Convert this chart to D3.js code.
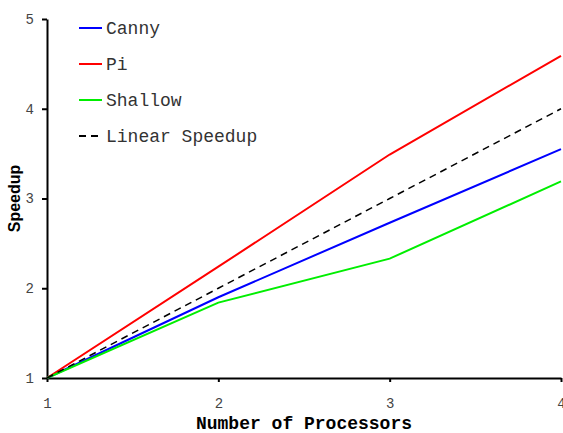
<!DOCTYPE html>
<html>
<head>
<meta charset="utf-8">
<script src="https://cdn.jsdelivr.net/npm/d3@7"></script>
<style>
  body { margin: 0; background: #fff; }
  svg text { font-family: "Liberation Mono", "Courier New", monospace; }
</style>
</head>
<body>
<script>
// speedup per processor count
const processors = [1, 2, 3, 4]
const canny = [1, 1.9, 2.73, 3.55]
const pi = [1, 2.24, 3.49, 4.59]
const shallow = [1, 1.84, 2.33, 3.19]
const linear = [1, 2, 3, 4]
const xTicks = [1, 2, 3, 4]
const yTicks = [1, 2, 3, 4, 5]

const series = [
    { name: "Canny", values: canny, color: "#0000ff", dash: null },
    { name: "Pi", values: pi, color: "#ff0000", dash: null },
    { name: "Shallow", values: shallow, color: "#00ee00", dash: null },
    { name: "Linear Speedup", values: linear, color: "#000", dash: "7,5" }
]

const width = 563,
    height = 433

const svg = d3.select("body").append("svg")
    .attr("width", width)
    .attr("height", height)

const x = d3.scaleLinear().domain([1, 4]).range([47, 561])
const y = d3.scaleLinear().domain([1, 5]).range([378, 19])

// axes
const xAxis = svg.append("g")
    .attr("transform", `translate(0,${y(1)})`)
    .call(d3.axisBottom(x).tickValues(xTicks).tickFormat(d3.format("d")).tickSize(4).tickSizeOuter(0))
const yAxis = svg.append("g")
    .attr("transform", `translate(${x(1)},0)`)
    .call(d3.axisLeft(y).tickValues(yTicks).tickFormat(d3.format("d")).tickSize(5).tickSizeOuter(0))

svg.selectAll(".domain").attr("stroke", "#000").attr("stroke-width", 2)
svg.selectAll(".tick line").attr("stroke", "#000").attr("stroke-width", 2)
svg.selectAll(".tick text")
    .attr("font-family", "Liberation Mono, Courier New, monospace")
    .attr("font-size", 14)
    .attr("fill", "#444")
xAxis.selectAll(".tick text").attr("dy", "0").attr("y", 30)
yAxis.selectAll(".tick text").attr("x", -13)

// lines
const line = d3.line()
    .x((d, i) => x(processors[i]))
    .y((d) => y(d))

svg.selectAll("path.series")
    .data(series)
    .join("path")
    .attr("class", "series")
    .attr("fill", "none")
    .attr("stroke", (d) => d.color)
    .attr("stroke-width", (d) => d.dash ? 1.5 : 2)
    .attr("stroke-dasharray", (d) => d.dash)
    .attr("d", (d) => line(d.values))

// legend
const legend = svg.selectAll("g.legend-item")
    .data(series)
    .join("g")
    .attr("class", "legend-item")
    .attr("transform", (d, i) => `translate(79,${28 + i * 36})`)

legend.append("line")
    .attr("x1", 0)
    .attr("x2", 23)
    .attr("stroke", (d) => d.color)
    .attr("stroke-width", 2)
    .attr("stroke-dasharray", (d) => d.dash)

legend.append("text")
    .attr("x", 27)
    .attr("dy", "0.33em")
    .attr("font-size", 18)
    .attr("fill", "#333")
    .text((d) => d.name)

// axis titles
svg.append("text")
    .attr("x", (x(1) + x(4)) / 2)
    .attr("y", 429)
    .attr("text-anchor", "middle")
    .attr("font-size", 18)
    .attr("font-weight", "bold")
    .text("Number of Processors")

svg.append("text")
    .attr("transform", `translate(20,${y(3)}) rotate(-90)`)
    .attr("text-anchor", "middle")
    .style("font-family", "Liberation Sans, Arial, sans-serif")
    .attr("font-size", 16)
    .attr("font-weight", "bold")
    .text("Speedup")
</script>
</body>
</html>
